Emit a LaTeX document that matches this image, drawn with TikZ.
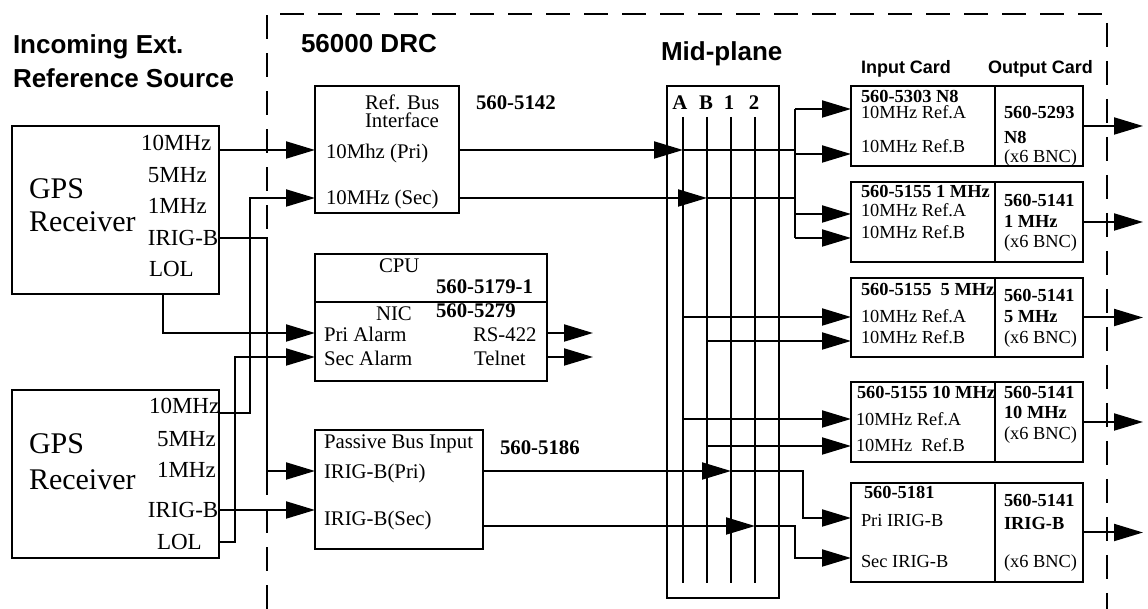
\documentclass[tikz,border=0pt]{standalone}
\usepackage{fontspec}
\setmainfont{Liberation Serif}
\setsansfont{Liberation Sans}
\usetikzlibrary{arrows.meta,fit}
\newcommand\headfont{\sffamily\bfseries\fontsize{13}{15}\selectfont}
\newcommand\subheadfont{\sffamily\bfseries\fontsize{9}{11}\selectfont}
\newcommand\gpsfont{\fontsize{15}{17}\selectfont}
\newcommand\portfont{\fontsize{11.5}{13}\selectfont}
\newcommand\boxfont{\fontsize{10.4}{12}\selectfont}
\newcommand\boxbold{\bfseries\fontsize{10.4}{12}\selectfont}
\newcommand\cardfont{\fontsize{9.2}{11}\selectfont}
\newcommand\cardbold{\bfseries\fontsize{9.2}{11}\selectfont}

\begin{document}
\begin{tikzpicture}[x=0.5pt,y=-0.5pt,line width=1pt,
  box/.style={draw,inner sep=0pt,outer sep=0pt},
  lbl/.style={inner sep=0pt,anchor=base west},
  sig/.style={-{Triangle[length=14.5pt,width=8.5pt]}},
  frame/.style={dash pattern=on 12pt off 7pt}]
\useasboundingbox (0,0) rectangle (1148,609);

% 56000 DRC shelf
\draw[frame] (267,609) -- (267,14) -- (1107,14) -- (1107,609);

% headings
\node[lbl,font=\headfont] (hIncoming) at (12,54) {Incoming Ext.};
\node[lbl,font=\headfont] (hSource) at (12,88) {Reference Source};
\node[lbl,font=\headfont] (hDrc) at (300,53) {56000 DRC};
\node[lbl,font=\headfont] (hMid) at (660,61) {Mid-plane};
\node[lbl,font=\subheadfont] (hIn) at (860,74) {Input Card};
\node[lbl,font=\subheadfont] (hOut) at (987,74) {Output Card};

% GPS receivers
\node[box,fit={(12,126) (219,294)}] (gpsA) {};
\node[lbl,font=\gpsfont] (gpsAt) at (28,199) {GPS};
\node[lbl,font=\gpsfont] (gpsAr) at (28,232) {Receiver};
\node[lbl,font=\portfont] (gpsA10) at (140,151) {10MHz};
\node[lbl,font=\portfont] (gpsA5) at (147,183) {5MHz};
\node[lbl,font=\portfont] (gpsA1) at (147,214) {1MHz};
\node[lbl,font=\portfont] (gpsAirig) at (147,246) {IRIG-B};
\node[lbl,font=\portfont] (gpsAlol) at (148,277) {LOL};
\coordinate (gA10) at (219,150);
\coordinate (gAirig) at (219,238);
\coordinate (gAlol) at (163,294);

\node[box,fit={(12,390) (219,558)}] (gpsB) {};
\node[lbl,font=\gpsfont] (gpsBt) at (28,454) {GPS};
\node[lbl,font=\gpsfont] (gpsBr) at (28,490) {Receiver};
\node[lbl,font=\portfont] (gpsB10) at (148,414) {10MHz};
\node[lbl,font=\portfont] (gpsB5) at (156,447) {5MHz};
\node[lbl,font=\portfont] (gpsB1) at (156,478) {1MHz};
\node[lbl,font=\portfont] (gpsBirig) at (147,518) {IRIG-B};
\node[lbl,font=\portfont] (gpsBlol) at (156,550) {LOL};
\coordinate (gB10) at (219,413);
\coordinate (gBirig) at (219,510);
\coordinate (gBlol) at (219,542);

% Ref. Bus Interface
\node[box,fit={(315,86) (459,213)}] (rbus) {};
\node[lbl,font=\boxfont] (rbusT1) at (364,110) {Ref. Bus};
\node[lbl,font=\boxfont] (rbusT2) at (364,128) {Interface};
\node[lbl,font=\boxfont] (rbusPri) at (325,159) {10Mhz (Pri)};
\node[lbl,font=\boxfont] (rbusSec) at (325,205) {10MHz (Sec)};
\node[lbl,font=\boxbold] (rbusId) at (475,110) {560-5142};
\coordinate (rbPri) at (315,150);
\coordinate (rbSec) at (315,198);

% CPU / NIC
\node[box,fit={(315,254) (547,381)}] (cpu) {};
\draw (315,302) -- (547,302);
\node[lbl,font=\boxfont] (cpuT) at (378,273) {CPU};
\node[lbl,font=\boxbold] (cpuId) at (435,294) {560-5179-1};
\node[lbl,font=\boxfont] (nicT) at (375,321) {NIC};
\node[lbl,font=\boxbold] (nicId) at (435,318) {560-5279};
\node[lbl,font=\boxfont] (nicPri) at (323,342) {Pri Alarm};
\node[lbl,font=\boxfont] (nicSec) at (323,366) {Sec Alarm};
\node[lbl,font=\boxfont] (nicRs) at (472,342) {RS-422};
\node[lbl,font=\boxfont] (nicTel) at (473,366) {Telnet};
\coordinate (cpuPri) at (315,333);
\coordinate (cpuSec) at (315,357);
\coordinate (rs422) at (593,333);
\coordinate (telnet) at (593,357);

% Passive Bus Input
\node[box,fit={(315,430) (483,549)}] (pbus) {};
\node[lbl,font=\boxfont] (pbusT) at (323,449) {Passive Bus Input};
\node[lbl,font=\boxfont] (pbusPri) at (323,479) {IRIG-B(Pri)};
\node[lbl,font=\boxfont] (pbusSec) at (323,526) {IRIG-B(Sec)};
\node[lbl,font=\boxbold] (pbusId) at (499,455) {560-5186};
\coordinate (pbPri) at (315,471);
\coordinate (pbSec) at (315,510);
\coordinate (pbSecOut) at (483,526);

% mid-plane
\node[box,fit={(667,86) (779,598)}] (midplane) {};
\node[inner sep=0pt,anchor=base,font=\boxbold] (busAl) at (680,110) {A};
\node[inner sep=0pt,anchor=base,font=\boxbold] (busBl) at (706,110) {B};
\node[inner sep=0pt,anchor=base,font=\boxbold] (bus1l) at (729,110) {1};
\node[inner sep=0pt,anchor=base,font=\boxbold] (bus2l) at (754,110) {2};
\coordinate (busA) at (683,117);
\coordinate (busB) at (707,117);
\coordinate (bus1) at (731,117);
\coordinate (bus2) at (755,117);
\coordinate (busbot) at (0,583);
\foreach \b in {A,B,1,2} \draw (bus\b) -- (bus\b |- busbot);
\coordinate (fanT) at (795,109);
\coordinate (fanB) at (795,238);

% input / output cards
\coordinate (divx) at (995,0);
\coordinate (outx) at (1143,0);
\node[box,fit={(851,86) (1083,166)}] (card1) {};
\node[box,fit={(851,182) (1083,262)}] (card2) {};
\node[box,fit={(851,278) (1083,357)}] (card3) {};
\node[box,fit={(851,382) (1083,462)}] (card4) {};
\node[box,fit={(851,483) (1083,582)}] (card5) {};
\foreach \c in {1,...,5} \draw (card\c.north -| divx) -- (card\c.south -| divx);

\node[lbl,font=\cardbold] (c1id) at (860,103) {560-5303 N8};
\node[lbl,font=\cardfont] (c1ra) at (860,119) {10MHz Ref.A};
\node[lbl,font=\cardfont] (c1rb) at (860,153) {10MHz Ref.B};
\node[lbl,font=\cardbold] (c1o1) at (1003,119) {560-5293};
\node[lbl,font=\cardbold] (c1o2) at (1003,144) {N8};
\node[lbl,font=\cardfont] (c1o3) at (1003,163) {(x6 BNC)};

\node[lbl,font=\cardbold] (c2id) at (860,198) {560-5155 1 MHz};
\node[lbl,font=\cardfont] (c2ra) at (860,217) {10MHz Ref.A};
\node[lbl,font=\cardfont] (c2rb) at (860,239) {10MHz Ref.B};
\node[lbl,font=\cardbold] (c2o1) at (1003,207) {560-5141};
\node[lbl,font=\cardbold] (c2o2) at (1003,228) {1 MHz};
\node[lbl,font=\cardfont] (c2o3) at (1003,248) {(x6 BNC)};

\node[lbl,font=\cardbold] (c3id) at (860,296) {560-5155\ \ 5 MHz};
\node[lbl,font=\cardfont] (c3ra) at (860,323) {10MHz Ref.A};
\node[lbl,font=\cardfont] (c3rb) at (860,344) {10MHz Ref.B};
\node[lbl,font=\cardbold] (c3o1) at (1003,302) {560-5141};
\node[lbl,font=\cardbold] (c3o2) at (1003,323) {5 MHz};
\node[lbl,font=\cardfont] (c3o3) at (1003,344) {(x6 BNC)};

\node[lbl,font=\cardbold] (c4id) at (856,399) {560-5155 10 MHz};
\node[lbl,font=\cardfont] (c4ra) at (855,426) {10MHz Ref.A};
\node[lbl,font=\cardfont] (c4rb) at (855,452) {10MHz\ \ Ref.B};
\node[lbl,font=\cardbold] (c4o1) at (1003,399) {560-5141};
\node[lbl,font=\cardbold] (c4o2) at (1003,419) {10 MHz};
\node[lbl,font=\cardfont] (c4o3) at (1003,440) {(x6 BNC)};

\node[lbl,font=\cardbold] (c5id) at (863,499) {560-5181};
\node[lbl,font=\cardfont] (c5ra) at (860,527) {Pri IRIG-B};
\node[lbl,font=\cardfont] (c5rb) at (860,568) {Sec IRIG-B};
\node[lbl,font=\cardbold] (c5o1) at (1003,507) {560-5141};
\node[lbl,font=\cardbold] (c5o2) at (1003,530) {IRIG-B};
\node[lbl,font=\cardfont] (c5o3) at (1003,568) {(x6 BNC)};

\coordinate (c1a) at (851,109);
\coordinate (c1b) at (851,154);
\coordinate (c2a) at (851,214);
\coordinate (c2b) at (851,238);
\coordinate (c3a) at (851,317);
\coordinate (c3b) at (851,341);
\coordinate (c4a) at (851,419);
\coordinate (c4b) at (851,446);
\coordinate (c5a) at (851,518);
\coordinate (c5b) at (851,558);

% GPS feeds into the shelf
\draw[sig] (gA10) -- (rbPri);
\draw[sig] (gAirig) -- ++(48,0) |- (pbPri);
\draw[sig] (gAlol) |- (cpuPri);
\draw[sig] (gB10) -- ++(31,0) |- (rbSec);
\draw[sig] (gBlol) -- ++(16,0) |- (cpuSec);
\draw[sig] (gBirig) -- (pbSec);

% NIC outputs
\draw[sig] (cpu.east |- rs422) -- (rs422);
\draw[sig] (cpu.east |- telnet) -- (telnet);

% onto the mid-plane
\draw[sig] (rbus.east |- rbPri) -- (busA |- rbPri);
\draw (busA |- rbPri) -- (fanT |- rbPri);
\draw[sig] (rbus.east |- rbSec) -- (busB |- rbSec);
\draw (busB |- rbSec) -- (fanT |- rbSec);
\draw[sig] (pbus.east |- pbPri) -- (bus1 |- pbPri);
\draw[sig] (pbSecOut) -- (bus2 |- pbSecOut);

% mid-plane to input cards
\draw (fanT) -- (fanB);
\draw[sig] (fanT) -- (c1a);
\draw[sig] (fanT |- c1b) -- (c1b);
\draw[sig] (fanT |- c2a) -- (c2a);
\draw[sig] (fanB) -- (c2b);
\draw[sig] (busA |- c3a) -- (c3a);
\draw[sig] (busB |- c3b) -- (c3b);
\draw[sig] (busA |- c4a) -- (c4a);
\draw[sig] (busB |- c4b) -- (c4b);
\draw[sig] (bus1 |- pbPri) -- ++(72,0) |- (c5a);
\draw[sig] (bus2 |- pbSecOut) -- ++(40,0) |- (c5b);

% output cards
\foreach \c in {1,...,5} \draw[sig] (card\c.east) -- (card\c.east -| outx);
\end{tikzpicture}
\end{document}
